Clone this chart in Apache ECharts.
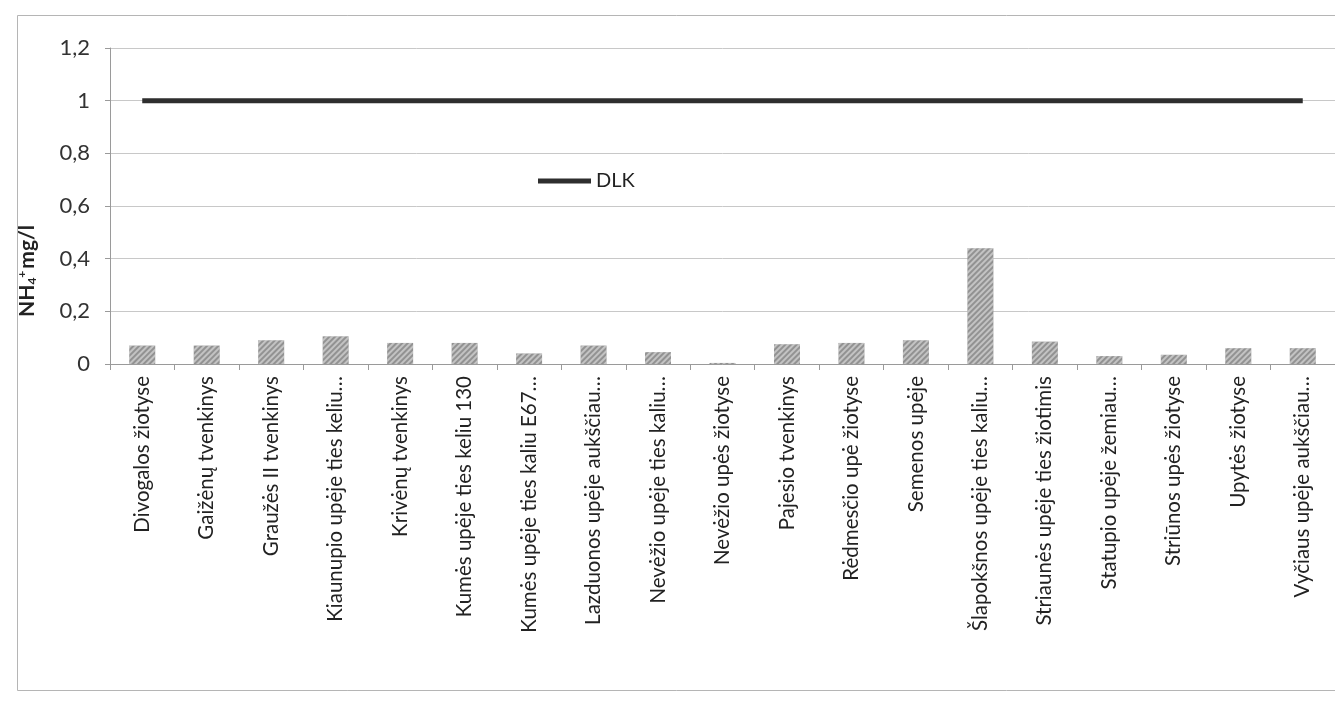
<!DOCTYPE html>
<html>
<head>
<meta charset="utf-8">
<script src="https://cdn.jsdelivr.net/npm/echarts@6/dist/echarts.min.js"></script>
<style>
  html, body { margin: 0; padding: 0; background: #ffffff; }
  #chart { width: 1335px; height: 701px; }
</style>
</head>
<body>
<div id="chart"></div>
<script>
// Sampling sites
var categories = [
  'Divogalos žiotyse',
  'Gaižėnų tvenkinys',
  'Graužės II tvenkinys',
  'Kiaunupio upėje ties keliu…',
  'Krivėnų tvenkinys',
  'Kumės upėje ties keliu 130',
  'Kumės upėje ties kaliu E67…',
  'Lazduonos upėje aukščiau…',
  'Nevėžio upėje ties kaliu…',
  'Nevėžio upės žiotyse',
  'Pajesio tvenkinys',
  'Rėdmesčio upė žiotyse',
  'Semenos upėje',
  'Šlapokšnos upėje ties kaliu…',
  'Striaunės upėje ties žiotimis',
  'Statupio upėje žemiau…',
  'Striūnos upės žiotyse',
  'Upytės žiotyse',
  'Vyčiaus upėje aukščiau…'
];

// Measured NH4+ concentration, mg/l
var nh4Values = [0.07, 0.07, 0.09, 0.105, 0.08, 0.08, 0.04, 0.07, 0.045, 0.004,
                 0.075, 0.08, 0.09, 0.44, 0.085, 0.03, 0.035, 0.06, 0.06];

// Permissible concentration limit (DLK)
var dlkValues = [1, 1, 1, 1, 1, 1, 1, 1, 1, 1, 1, 1, 1, 1, 1, 1, 1, 1, 1];

// Value axis ticks
var yMin = 0, yMax = 1.2, yStep = 0.2;

var chart = echarts.init(document.getElementById('chart'));

chart.setOption({
  backgroundColor: '#ffffff',
  animation: false,
  textStyle: { fontFamily: 'Lato, "Open Sans", sans-serif' },
  graphic: [{
    type: 'rect',
    left: 15, top: 13,
    shape: { width: 1330, height: 675 },
    style: { fill: 'none', stroke: '#b5b5b5', lineWidth: 1 },
    silent: true
  }],
  legend: {
    data: [{ name: 'DLK', icon: 'rect' }],
    left: 533, top: 166,
    itemWidth: 53, itemHeight: 5, itemGap: 6,
    textStyle: { fontSize: 20, color: '#222' }
  },
  grid: { left: 110, right: -4, top: 48, bottom: 337 },
  xAxis: {
    type: 'category',
    data: categories,
    boundaryGap: true,
    axisLine: { lineStyle: { color: '#9a9a9a', width: 1 } },
    axisTick: { show: true, length: 6, lineStyle: { color: '#9a9a9a' } },
    axisLabel: {
      rotate: 90, interval: 0, margin: 12,
      fontSize: 20.5, color: '#222'
    }
  },
  yAxis: {
    type: 'value',
    min: yMin, max: yMax, interval: yStep,
    name: '{b|NH}{s|4}{p|+}{b|mg/l}',
    nameLocation: 'middle', nameRotate: 90, nameGap: 72,
    nameTextStyle: {
      padding: [0, 130, 0, 0],
      rich: {
        b: { fontSize: 21, fontWeight: 'bold', color: '#222', fontFamily: 'Lato, sans-serif' },
        s: { fontSize: 12, fontWeight: 'bold', color: '#222', verticalAlign: 'bottom', padding: [10, 0, 0, 0] },
        p: { fontSize: 12, fontWeight: 'bold', color: '#222', verticalAlign: 'top', padding: [0, 2, 10, 0] }
      }
    },
    axisLine: { show: true, lineStyle: { color: '#9a9a9a', width: 1 } },
    axisTick: { show: true, length: 5, lineStyle: { color: '#9a9a9a' } },
    axisLabel: {
      margin: 20, fontSize: 22, color: '#333',
      formatter: function (v) { return String(+v.toFixed(1)).replace('.', ','); }
    },
    splitLine: { lineStyle: { color: '#c8c8c8', width: 1 } }
  },
  series: [
    {
      name: 'NH4',
      type: 'bar',
      data: nh4Values,
      barWidth: 26,
      itemStyle: {
        color: '#929292',
        decal: {
          symbol: 'rect',
          symbolSize: 1,
          dashArrayX: [1, 0],
          dashArrayY: [2, 2],
          rotation: -Math.PI / 4,
          color: 'rgba(255,255,255,0.45)'
        }
      }
    },
    {
      name: 'DLK',
      type: 'line',
      data: dlkValues,
      symbol: 'none',
      lineStyle: { color: '#2e2e2e', width: 5 },
      itemStyle: { color: '#2e2e2e' },
      z: 3
    }
  ]
});
</script>
</body>
</html>
